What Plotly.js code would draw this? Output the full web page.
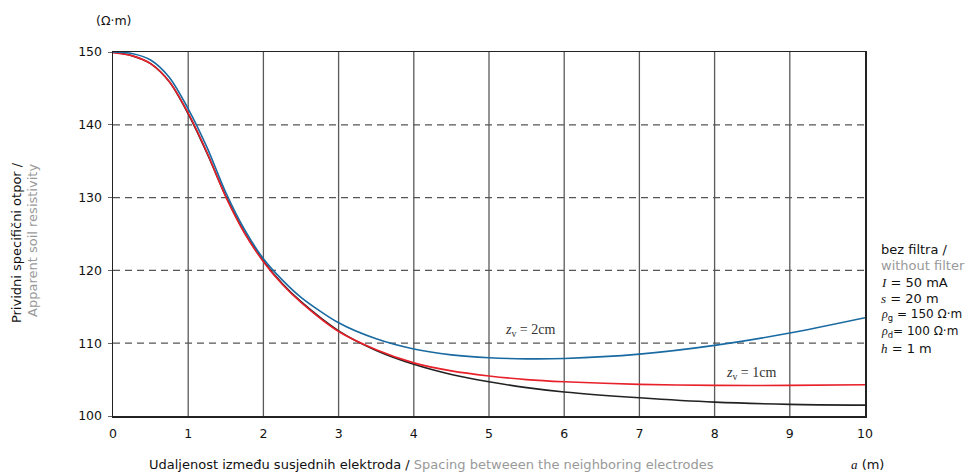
<!DOCTYPE html>
<html>
<head>
<meta charset="utf-8">
<script src="https://cdn.plot.ly/plotly-3.0.1.min.js"></script>
<style>html,body{margin:0;padding:0;background:#fff;}#chart{width:966px;height:472px;}</style>
</head>
<body>
<div id="chart"></div>
<script>
// Spacing a (m)
const spacing = [0, 0.25, 0.5, 0.75, 1, 1.25, 1.5, 1.75, 2, 2.25, 2.5, 3, 3.5, 4, 4.5, 5, 5.5, 6, 7, 8, 9, 10];
// Apparent soil resistivity (Ω·m)
const noFilter = [150, 149.5, 148.4, 145.9, 141.5, 136.1, 130.2, 125.2, 121.3, 118.2, 115.7, 111.7, 109.0, 107.1, 105.7, 104.7, 103.9, 103.3, 102.5, 101.9, 101.6, 101.5];
const zv1cm = [149.9, 149.5, 148.4, 145.9, 141.6, 136.2, 130.1, 125.1, 121.2, 118.1, 115.6, 111.6, 109.1, 107.3, 106.2, 105.5, 105.0, 104.7, 104.35, 104.2, 104.2, 104.3];
const zv2cm = [150.0, 149.8, 148.9, 146.5, 142.2, 136.9, 130.7, 125.6, 121.6, 118.7, 116.3, 112.8, 110.6, 109.2, 108.4, 108.0, 107.85, 107.9, 108.5, 109.7, 111.4, 113.5];
const xTicks = [0, 1, 2, 3, 4, 5, 6, 7, 8, 9, 10];
const yTicks = [100, 110, 120, 130, 140, 150];

const FONT = 'DejaVu Sans, Verdana, sans-serif';
const SERIF = 'Liberation Serif, Times New Roman, serif';

const traces = [
  {x: spacing, y: noFilter, mode: 'lines', line: {color: '#222222', width: 1.6, shape: 'spline', smoothing: 0.8}, name: 'bez filtra'},
  {x: spacing, y: zv1cm, mode: 'lines', line: {color: '#e8202a', width: 1.6, shape: 'spline', smoothing: 0.8}, name: 'zv = 1cm'},
  {x: spacing, y: zv2cm, mode: 'lines', line: {color: '#1a6aa2', width: 1.6, shape: 'spline', smoothing: 0.8}, name: 'zv = 2cm'}
];

const shapes = [];
xTicks.slice(1, -1).forEach(v => shapes.push({type: 'line', xref: 'x', yref: 'y', x0: v, x1: v, y0: 100, y1: 150, line: {color: '#5a5a5a', width: 1.3}, layer: 'below'}));
yTicks.slice(1, -1).forEach(v => shapes.push({type: 'line', xref: 'x', yref: 'y', x0: 0, x1: 10, y0: v, y1: v, line: {color: '#555', width: 1.3, dash: '7px,5px'}, layer: 'below'}));

const it = s => '<i style="font-family:' + SERIF + '">' + s + '</i>';
const rightLines = [
  ['bez filtra /', '#111', 13],
  ['without filter', '#999', 13],
  [it('I') + ' = 50 mA', '#111', 13],
  [it('s') + ' = 20 m', '#111', 13],
  [it('ρ') + '<sub>g</sub> = 150 Ω·m', '#111', 12],
  [it('ρ') + '<sub>d</sub>= 100 Ω·m', '#111', 12],
  [it('h') + ' = 1 m', '#111', 13]
];
const rightY = [249, 265.5, 282, 298.5, 315, 331.5, 348]; // pixel rows

const annotations = [
  {xref: 'paper', yref: 'paper', x: 0, y: 1.0, xanchor: 'center', yanchor: 'middle', yshift: 32, text: '(Ω·m)', showarrow: false, font: {family: FONT, size: 12.5, color: '#111'}},
  {xref: 'paper', yref: 'paper', x: 0, y: 0.475, xshift: -97, xanchor: 'center', yanchor: 'middle', textangle: -90, text: 'Prividni specifični otpor /', showarrow: false, font: {family: FONT, size: 13, color: '#111'}},
  {xref: 'paper', yref: 'paper', x: 0, y: 0.481, xshift: -80, xanchor: 'center', yanchor: 'middle', textangle: -90, text: 'Apparent soil resistivity', showarrow: false, font: {family: FONT, size: 13, color: '#999'}},
  {xref: 'paper', yref: 'paper', x: 0.045, y: 0, yshift: -48, xanchor: 'left', yanchor: 'middle', text: 'Udaljenost između susjednih elektroda / <span style="color:#999">Spacing betweeen the neighboring electrodes</span>', showarrow: false, font: {family: FONT, size: 13, color: '#111'}},
  {xref: 'paper', yref: 'paper', x: 1.0, xshift: 2, y: 0, yshift: -48, xanchor: 'center', yanchor: 'middle', text: it('a') + ' (m)', showarrow: false, font: {family: FONT, size: 13, color: '#111'}},
  {xref: 'x', yref: 'y', x: 5.54, y: 111.7, xanchor: 'center', yanchor: 'middle', text: '<i>z</i><sub>v</sub> = 2cm', showarrow: false, font: {family: SERIF, size: 14, color: '#333'}},
  {xref: 'x', yref: 'y', x: 8.48, y: 105.9, xanchor: 'center', yanchor: 'middle', text: '<i>z</i><sub>v</sub> = 1cm', showarrow: false, font: {family: SERIF, size: 14, color: '#333'}}
];
rightLines.forEach((l, i) => annotations.push({xref: 'paper', yref: 'paper', x: 1, xshift: 14, y: (416 - rightY[i]) / 364, xanchor: 'left', yanchor: 'middle', text: l[0], showarrow: false, font: {family: FONT, size: l[2], color: l[1]}}));

const layout = {
  width: 966, height: 472,
  margin: {l: 113, r: 101, t: 52, b: 56},
  paper_bgcolor: '#fff', plot_bgcolor: '#fff',
  showlegend: false,
  xaxis: {range: [0, 10], tickvals: xTicks, ticktext: xTicks.map(String), showgrid: false, zeroline: false, showline: true, mirror: true, linecolor: '#222', linewidth: 1.5, ticks: '', ticklabelstandoff: 5, tickfont: {family: FONT, size: 12.5, color: '#111'}},
  yaxis: {range: [100, 150], tickvals: yTicks, ticktext: yTicks.map(String), showgrid: false, zeroline: false, showline: true, mirror: true, linecolor: '#222', linewidth: 1.5, ticks: 'outside', ticklen: 4, tickcolor: '#666', ticklabelstandoff: 3, tickfont: {family: FONT, size: 12.5, color: '#111'}},
  shapes: shapes,
  annotations: annotations
};

Plotly.newPlot('chart', traces, layout, {displayModeBar: false, staticPlot: true});
</script>
</body>
</html>
